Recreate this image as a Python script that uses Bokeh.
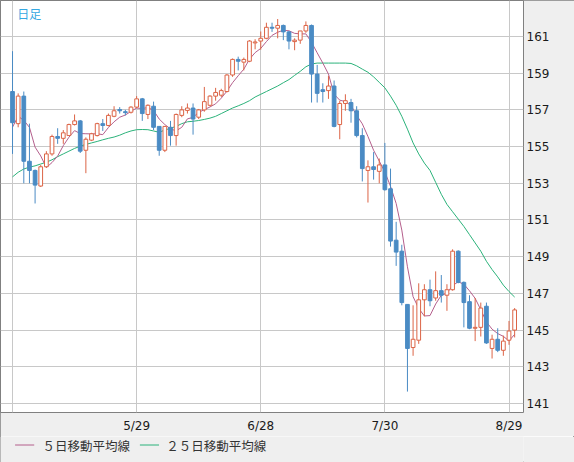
import pandas as pd
from bokeh.plotting import figure
from bokeh.layouts import column
from bokeh.models import Range1d, FixedTicker, Label
from bokeh.models import ColumnDataSource
from bokeh.core.properties import value
from bokeh.embed import file_html
from bokeh.resources import INLINE

# ---- data -------------------------------------------------------------
dates = [d.strftime("%Y-%m-%d") for d in pd.bdate_range("2024-04-29", "2024-08-30")]

opens = [158.0, 156.25, 157.75, 154.2, 153.7, 152.85, 153.9, 154.6, 155.55, 155.45,
         155.6, 156.2, 156.4, 154.8, 155.35, 155.6, 156.25, 156.15, 156.65, 157.02,
         156.9, 156.87, 157.15, 157.6, 156.75, 157.2, 156.1, 154.8, 156.05, 155.6,
         156.7, 156.97, 157.1, 156.6, 157.0, 157.25, 157.75, 157.8, 158.0, 158.9,
         159.75, 159.6, 159.65, 160.65, 160.75, 160.9, 161.5, 161.45, 161.6, 161.25,
         160.72, 160.8, 161.3, 161.6, 158.95, 158.1, 158.05, 158.3, 156.2, 157.35,
         157.4, 156.95, 155.6, 153.7, 153.9, 153.65, 154.0, 152.7, 149.9, 149.3,
         146.4, 144.05, 144.45, 146.65, 147.2, 146.75, 147.15, 146.9, 147.2, 149.3,
         147.6, 146.55, 145.1, 145.15, 146.3, 144.0, 144.5, 143.9, 144.45, 145.0]
highs = [160.2, 157.9, 158.0, 156.25, 153.75, 154.0, 154.75, 155.65, 156.0, 155.9,
         156.25, 156.75, 156.45, 155.5, 155.75, 156.3, 156.5, 156.8, 157.2, 157.15,
         157.0, 157.2, 157.75, 157.65, 157.3, 157.45, 156.1, 156.1, 156.4, 156.8,
         157.2, 157.35, 157.35, 157.05, 158.25, 157.8, 158.2, 158.15, 158.95, 159.8,
         159.9, 159.85, 160.8, 160.85, 161.27, 161.75, 161.75, 161.95, 161.65, 161.3,
         160.9, 161.3, 161.82, 161.65, 159.45, 158.45, 158.85, 158.6, 157.5, 157.85,
         157.6, 157.2, 156.0, 154.25, 154.7, 154.35, 155.2, 153.8, 150.9, 149.65,
         146.4, 146.35, 147.55, 147.5, 147.75, 148.2, 148.0, 147.5, 149.4, 149.35,
         147.65, 146.9, 146.75, 146.5, 146.5, 144.75, 145.1, 144.7, 145.5, 146.2]
lows = [154.6, 156.05, 153.0, 153.0, 151.9, 152.8, 153.85, 154.5, 155.15, 155.15,
        155.6, 156.15, 154.65, 153.55, 155.3, 155.55, 155.85, 156.1, 156.6, 156.8,
        156.7, 156.8, 157.1, 156.4, 156.5, 155.9, 154.5, 154.7, 155.05, 155.05,
        156.6, 156.8, 155.65, 156.5, 156.9, 157.2, 157.5, 157.7, 157.95, 158.8,
        159.15, 159.15, 159.6, 160.3, 160.28, 160.85, 161.25, 160.9, 160.8, 160.3,
        160.25, 160.6, 161.2, 157.4, 157.4, 157.4, 157.6, 156.05, 155.4, 156.95,
        156.3, 155.5, 153.1, 151.95, 153.2, 153.0, 152.6, 149.55, 148.5, 146.35,
        141.65, 143.6, 144.25, 145.75, 146.3, 146.6, 146.5, 146.05, 147.15, 147.55,
        145.15, 145.05, 144.4, 144.65, 144.25, 143.45, 143.8, 143.6, 144.2, 144.6]
closes = [156.3, 157.75, 154.2, 153.7, 152.9, 153.9, 154.6, 155.55, 155.45, 155.75,
          156.2, 156.4, 154.75, 155.4, 155.7, 156.25, 156.15, 156.7, 156.95, 156.95,
          156.85, 157.15, 157.6, 156.8, 157.25, 156.05, 154.8, 156.1, 155.6, 156.75,
          157.0, 157.1, 156.5, 157.0, 157.45, 157.75, 157.95, 158.05, 158.9, 159.75,
          159.65, 159.75, 160.75, 160.7, 160.9, 161.5, 161.45, 161.6, 161.25, 160.75,
          160.8, 161.3, 161.6, 158.95, 157.9, 158.0, 158.3, 156.1, 157.35, 157.5,
          156.95, 155.6, 153.8, 153.9, 153.75, 154.0, 152.65, 149.85, 149.25, 146.5,
          144.0, 144.5, 146.65, 147.2, 146.6, 147.15, 146.9, 147.2, 149.3, 147.6,
          146.5, 145.1, 145.15, 146.2, 144.3, 144.5, 143.9, 144.4, 144.95, 146.1]
ma5 = [156.06, 156.65, 156.43, 156.05, 154.97, 154.49, 153.86, 154.13, 154.48, 155.05,
       155.51, 155.87, 155.71, 155.70, 155.69, 155.70, 155.65, 156.04, 156.35, 156.60,
       156.72, 156.92, 157.10, 157.07, 157.13, 156.97, 156.50, 156.20, 155.96, 155.86,
       156.05, 156.51, 156.59, 156.87, 157.01, 157.16, 157.33, 157.64, 158.02, 158.48,
       158.86, 159.22, 159.76, 160.12, 160.35, 160.72, 161.06, 161.23, 161.34, 161.31,
       161.17, 161.14, 161.14, 160.68, 160.11, 159.55, 158.95, 157.85, 157.53, 157.45,
       157.24, 156.70, 156.24, 155.55, 154.80, 154.21, 153.62, 152.83, 151.90, 150.45,
       148.45, 146.82, 146.18, 145.77, 145.79, 146.42, 146.90, 147.01, 147.43, 147.63,
       147.50, 147.14, 146.73, 146.11, 145.45, 145.05, 144.81, 144.66, 144.41, 144.77]
ma25 = [153.35, 153.6, 153.78, 153.88, 153.95, 154.05, 154.15, 154.28, 154.45, 154.6,
        154.75, 154.9, 155.02, 155.12, 155.2, 155.28, 155.37, 155.45, 155.52, 155.62,
        155.75, 155.85, 155.92, 155.93, 155.92, 155.85, 155.78, 155.9, 156.0, 156.1,
        156.25, 156.35, 156.38, 156.42, 156.48, 156.55, 156.65, 156.8, 156.95, 157.1,
        157.22, 157.35, 157.5, 157.7, 157.85, 158.0, 158.15, 158.3, 158.48, 158.65,
        158.88, 159.1, 159.35, 159.5, 159.55, 159.55, 159.55, 159.55, 159.55, 159.55,
        159.53, 159.4, 159.22, 159.05, 158.8, 158.5, 158.2, 157.75, 157.25, 156.65,
        155.95, 155.2, 154.6, 154.1, 153.7, 153.05, 152.4, 151.85, 151.45, 151.05,
        150.65, 150.2, 149.75, 149.3, 148.75, 148.3, 147.9, 147.45, 147.1, 146.8]

grid_dates = ["2024-04-29", "2024-05-29", "2024-06-28", "2024-07-30", "2024-08-29"]
grid_labels = ["", "5/29", "6/28", "7/30", "8/29"]
price_ticks = [141, 143, 145, 147, 149, 151, 153, 155, 157, 159, 161]
legend_labels = ["５日移動平均線", "２５日移動平均線"]
title_text = "日足"

# ---- styling constants ---------------------------------------------------
UP = "#dc6446"
DOWN = "#4a8bc4"
MA5_C = "#b45f8c"
MA25_C = "#2bb27a"
GRID_C = "#c8c8c8"
BG = "#efefef"

idx = list(range(len(dates)))
grid_idx = [dates.index(d) for d in grid_dates]

up_flags = [c >= o for o, c in zip(opens, closes)]
src = ColumnDataSource(dict(
    x=idx, o=opens, h=highs, l=lows, c=closes,
    top=[max(o, c) for o, c in zip(opens, closes)],
    bottom=[min(o, c) for o, c in zip(opens, closes)],
    col=[UP if u else DOWN for u in up_flags],
    fill=["#ffffff" if u else DOWN for u in up_flags],
))

p = figure(width=574, height=436,
           x_range=Range1d(-2.13, 90.57), y_range=Range1d(140.51, 162.96),
           output_backend="svg", toolbar_location=None,
           y_axis_location="right",
           min_border_left=0, min_border_top=0, min_border_right=51, min_border_bottom=24)

p.background_fill_color = "#ffffff"
p.border_fill_color = BG
p.outline_line_color = "#808080"
p.outline_line_width = 1

for ax in (p.xaxis[0], p.yaxis[0]):
    ax.axis_line_color = None
    ax.major_tick_line_color = None
    ax.minor_tick_line_color = None
    ax.major_tick_in = 0
    ax.major_tick_out = 0
    ax.major_label_text_font = "DejaVu Sans"
    ax.major_label_text_font_size = "12px"
    ax.major_label_text_color = "#1a1a1a"

p.yaxis.ticker = FixedTicker(ticks=price_ticks)
p.yaxis.major_label_standoff = 3
p.xaxis.ticker = FixedTicker(ticks=grid_idx)
p.xaxis.major_label_overrides = {i: lab for i, lab in zip(grid_idx, grid_labels)}
p.xaxis.major_label_standoff = 6

p.xgrid.grid_line_color = GRID_C
p.ygrid.grid_line_color = GRID_C
p.xgrid.grid_line_width = 1
p.ygrid.grid_line_width = 1

# moving averages
p.line(idx, ma25, line_color=MA25_C, line_width=1)
p.line(idx, ma5, line_color=MA5_C, line_width=1)

# candles
p.segment(x0="x", y0="h", x1="x", y1="l", line_color="col", line_width=1, source=src)
p.vbar(x="x", top="top", bottom="bottom", width=0.66, fill_color="fill",
       line_color="col", line_width=1, source=src)

p.add_layout(Label(x=0.83, y=162.7, text=title_text, text_baseline="top",
                   text_font="Noto Sans CJK JP", text_font_size="12px",
                   text_color="#35a8e2"))

# ---- legend strip (pixel coordinates) ------------------------------------
lg = figure(width=574, height=26, x_range=Range1d(0, 574), y_range=Range1d(26, 0),
            output_backend="svg", toolbar_location=None,
            x_axis_location=None, y_axis_location=None,
            min_border_left=0, min_border_right=0, min_border_top=0, min_border_bottom=0)
lg.background_fill_color = BG
lg.border_fill_color = BG
lg.outline_line_color = None
lg.xgrid.visible = False
lg.ygrid.visible = False
lg.segment(x0=[16, 153], y0=[8.5, 8.5], x1=[37, 174], y1=[8.5, 8.5],
           line_color=[MA5_C, MA25_C], line_width=1)
lg.text(x=[46, 182], y=[8.5, 8.5], text=legend_labels,
        text_font=value("Noto Sans CJK JP"), text_font_size="12.5px",
        text_color="#333333", text_baseline="middle", text_align="left")

layout = column(p, lg, spacing=0)
layout.styles = {"outline": "1px solid #808080", "outline-offset": "-1px"}

open("out.html", "w").write(file_html(layout, INLINE))
